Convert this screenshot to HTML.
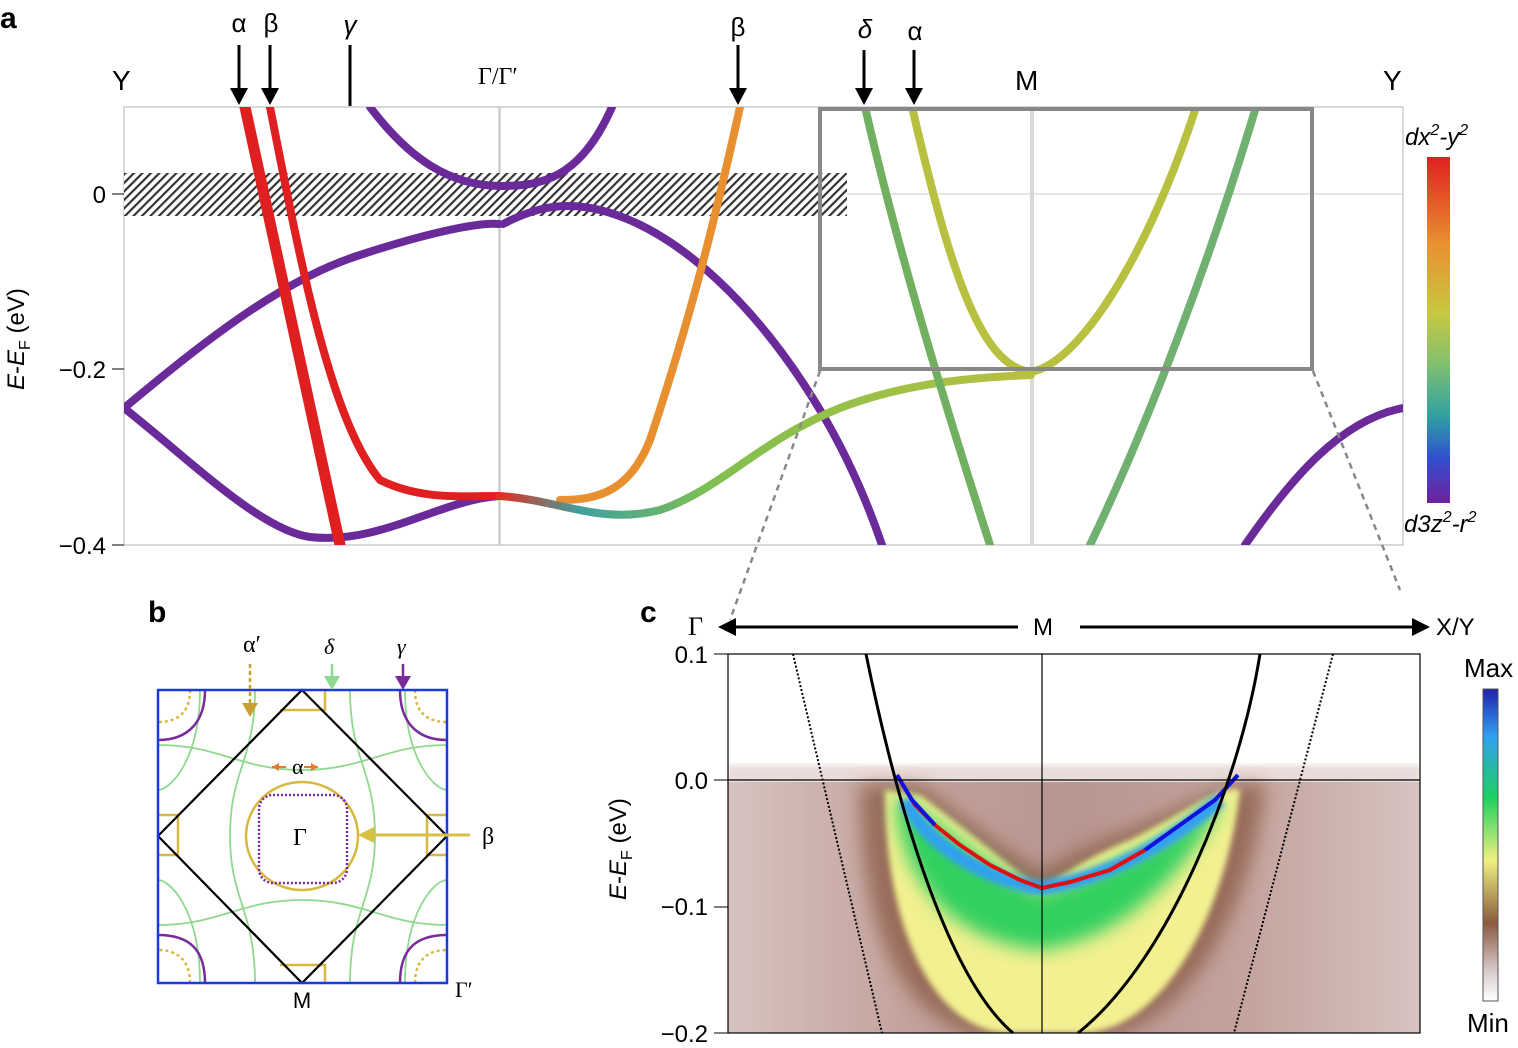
<!DOCTYPE html>
<html><head><meta charset="utf-8"><style>
html,body{margin:0;padding:0;background:#fff}
svg text{font-family:"Liberation Sans",sans-serif}
.s{font-family:"Liberation Serif",serif}
</style></head><body>
<svg width="1518" height="1043" viewBox="0 0 1518 1043" xmlns="http://www.w3.org/2000/svg">
<defs>
<pattern id="h" width="6" height="6" patternUnits="userSpaceOnUse" patternTransform="rotate(45)">
<rect width="6" height="6" fill="#fff"/><rect width="2.2" height="6" fill="#333"/></pattern>
<linearGradient id="cb" x1="0" y1="0" x2="0" y2="1">
<stop offset="0" stop-color="#e02020"/><stop offset="0.25" stop-color="#e89030"/><stop offset="0.45" stop-color="#c8c840"/><stop offset="0.6" stop-color="#80c070"/><stop offset="0.75" stop-color="#30a0a0"/><stop offset="0.87" stop-color="#3050d0"/><stop offset="1" stop-color="#7020a0"/></linearGradient>
<linearGradient id="cb2" x1="0" y1="0" x2="0" y2="1">
<stop offset="0" stop-color="#2020b0"/><stop offset="0.15" stop-color="#30a0f0"/><stop offset="0.35" stop-color="#20d060"/><stop offset="0.55" stop-color="#f0f080"/><stop offset="0.75" stop-color="#8a5a40"/><stop offset="0.9" stop-color="#d8c8c8"/><stop offset="1" stop-color="#ffffff"/></linearGradient>
<linearGradient id="gb" x1="0" y1="0" x2="1" y2="0">
<stop offset="0" stop-color="#e03020"/><stop offset="0.15" stop-color="#40a0a0"/><stop offset="0.4" stop-color="#80c050"/><stop offset="1" stop-color="#b8c040"/></linearGradient>
<linearGradient id="bg" x1="0" y1="0" x2="1" y2="0">
<stop offset="0" stop-color="#d6c3c0"/><stop offset="0.25" stop-color="#c4a39d"/><stop offset="0.5" stop-color="#b89590"/><stop offset="0.75" stop-color="#c4a39d"/><stop offset="1" stop-color="#d6c3c0"/></linearGradient>
<filter id="bl"><feGaussianBlur stdDeviation="9"/></filter>
<filter id="bl2"><feGaussianBlur stdDeviation="3"/></filter>
<clipPath id="ca"><rect x="124" y="107" width="1279" height="438"/></clipPath>
<clipPath id="cc"><rect x="728" y="654" width="692" height="379"/></clipPath>
</defs>

<text x="0" y="28" font-size="30" font-weight="bold">a</text>
<rect x="124" y="107" width="375" height="438" fill="none" stroke="#ccc" stroke-width="1.5"/>
<rect x="500" y="107" width="531" height="438" fill="none" stroke="#ccc" stroke-width="1.5"/>
<rect x="1033" y="107" width="370" height="438" fill="none" stroke="#ccc" stroke-width="1.5"/>
<line x1="124" y1="194" x2="1403" y2="194" stroke="#ccc" stroke-width="1"/>
<rect x="124" y="173" width="723" height="43" fill="url(#h)"/>
<g clip-path="url(#ca)" fill="none" stroke-linecap="round">
<path d="M124 408 C200 345 280 280 360 255 C430 232 480 222 499 224" stroke="#6a2a9a" stroke-width="8"/>
<path d="M124 408 C190 460 260 530 310 537 C380 545 440 500 499 496" stroke="#6a2a9a" stroke-width="8"/>
<path d="M370 107 C410 160 450 185 499 186" stroke="#6a2a9a" stroke-width="8"/>
<path d="M500 186 C540 186 580 180 612 107" stroke="#6a2a9a" stroke-width="8"/>
<path d="M503 224 C530 210 560 200 600 210 C680 230 760 310 820 410 C850 460 870 510 882 545" stroke="#6a2a9a" stroke-width="8"/>
<path d="M245 107 L340 545" stroke="#e02020" stroke-width="11"/>
<path d="M270 107 C300 260 330 420 380 480 C420 500 460 496 499 496" stroke="#e02020" stroke-width="8"/>
<path d="M740 107 C715 220 690 320 650 440 C630 490 600 500 560 500" stroke="#e89030" stroke-width="8"/>
<path d="M500 496 C560 500 600 525 660 510 C720 490 760 440 840 408 C900 385 960 378 1031 375" stroke="url(#gb)" stroke-width="8"/>
<path d="M865 107 C900 260 950 420 990 545" stroke="#70b060" stroke-width="8"/>
<path d="M912 107 C950 270 980 365 1030 372 C1080 365 1150 250 1196 107" stroke="#b8c040" stroke-width="8"/>
<path d="M1256 107 C1210 260 1150 420 1090 545" stroke="#70b070" stroke-width="8"/>
<path d="M1245 545 C1290 480 1340 420 1403 408" stroke="#6a2a9a" stroke-width="8"/>
</g>
<rect x="820" y="109" width="492" height="260" fill="none" stroke="#888" stroke-width="4"/>
<line x1="820" y1="371" x2="730" y2="620" stroke="#888" stroke-width="2.5" stroke-dasharray="6,5"/>
<line x1="1313" y1="371" x2="1400" y2="590" stroke="#888" stroke-width="2.5" stroke-dasharray="6,5"/>
<g font-size="24" text-anchor="end"><text x="106" y="203">0</text><text x="106" y="378">−0.2</text><text x="106" y="554">−0.4</text></g>
<line x1="112" y1="194" x2="124" y2="194" stroke="#000"/><line x1="112" y1="369" x2="124" y2="369" stroke="#000"/><line x1="112" y1="545" x2="124" y2="545" stroke="#000"/>
<text transform="translate(24,390) rotate(-90)" font-size="24"><tspan font-style="italic">E</tspan>-<tspan font-style="italic">E</tspan><tspan font-size="16" dy="6">F</tspan><tspan dy="-6"> (eV)</tspan></text>
<g font-size="28"><text x="112" y="90">Y</text><text x="1015" y="90">M</text><text x="1383" y="90">Y</text></g>
<text x="478" y="84" font-size="24" class="s">Γ/Γ′</text>
<g font-size="26" class="s" text-anchor="middle"><text x="239" y="32">α</text><text x="271" y="32">β</text><text x="350" y="34" font-style="italic">γ</text><text x="738" y="36">β</text><text x="865" y="38" font-style="italic">δ</text><text x="915" y="40">α</text></g>
<g stroke="#000" stroke-width="3"><line x1="239" y1="45" x2="239" y2="90"/><line x1="270" y1="45" x2="270" y2="90"/><line x1="350" y1="45" x2="350" y2="106"/><line x1="738" y1="45" x2="738" y2="90"/><line x1="864" y1="50" x2="864" y2="90"/><line x1="914" y1="50" x2="914" y2="90"/></g>
<g fill="#000"><path d="M230 88h18l-9 17z"/><path d="M261 88h18l-9 17z"/><path d="M729 88h18l-9 17z"/><path d="M855 88h18l-9 17z"/><path d="M905 88h18l-9 17z"/></g>
<rect x="1427" y="157" width="23" height="346" fill="url(#cb)"/>
<text x="1405" y="145" font-size="24" font-style="italic">dx<tspan font-size="16" dy="-10">2</tspan><tspan dy="10">-y</tspan><tspan font-size="16" dy="-10">2</tspan></text>
<text x="1404" y="532" font-size="24" font-style="italic">d3z<tspan font-size="16" dy="-10">2</tspan><tspan dy="10">-r</tspan><tspan font-size="16" dy="-10">2</tspan></text>

<text x="148" y="622" font-size="30" font-weight="bold">b</text>
<g fill="none" stroke-width="1.8">
<path d="M200 690 C200 760 170 790 158 790 M405 690 C405 760 435 790 447 790 M200 983 C200 910 170 880 158 880 M405 983 C405 910 435 880 447 880" stroke="#8fd88f"/>
<path d="M255 690 C255 760 230 770 230 836 C230 900 255 910 255 983 M350 690 C350 760 375 770 375 836 C375 900 350 910 350 983" stroke="#8fd88f"/>
<path d="M158 745 C220 745 240 770 302 770 C365 770 385 745 447 745 M158 925 C220 925 240 900 302 900 C365 900 385 925 447 925" stroke="#8fd88f"/>
<ellipse cx="302" cy="836" rx="56" ry="54" stroke="#d8b840" stroke-width="2.5"/>
<rect x="259" y="795" width="88" height="88" rx="14" stroke="#7a2a9a" stroke-dasharray="2,2" stroke-width="2.5"/>
<path d="M205 690 C205 720 190 740 158 740 M400 690 C400 720 415 740 447 740 M205 983 C205 950 190 935 158 935 M400 983 C400 950 415 935 447 935" stroke="#7a2a9a" stroke-width="2.5"/>
<path d="M190 690 C190 715 175 722 158 722 M415 690 C415 715 430 722 447 722 M190 983 C190 958 175 950 158 950 M415 983 C415 958 430 950 447 950" stroke="#d8b840" stroke-width="2.5" stroke-dasharray="3,3"/>
<path d="M280 710 h45 v-20 M280 965 h45 v18 M158 815 h20 v40 h-20 M447 815 h-20 v40 h20" stroke="#d8b840" stroke-width="2.5"/>
<path d="M302 690 L447 836 L302 983 L158 836 Z" stroke="#000" stroke-width="2.2"/>
</g>
<rect x="158" y="690" width="289" height="293" fill="none" stroke="#1a3ae0" stroke-width="2.5"/>
<text x="293" y="845" font-size="24" class="s">Γ</text>
<text x="302" y="1008" font-size="22" text-anchor="middle">M</text>
<text x="455" y="997" font-size="22" class="s">Γ′</text>
<text x="243" y="652" font-size="24" class="s">α′</text>
<text x="324" y="654" font-size="22" class="s" font-style="italic">δ</text>
<text x="397" y="654" font-size="22" class="s" font-style="italic">γ</text>
<text x="292" y="774" font-size="22" class="s">α</text>
<text x="482" y="844" font-size="24" class="s">β</text>
<line x1="250" y1="664" x2="250" y2="705" stroke="#c8a030" stroke-width="2.5" stroke-dasharray="4,3"/><path d="M242 703h16l-8 14z" fill="#c8a030"/>
<line x1="332" y1="664" x2="332" y2="678" stroke="#8fd88f" stroke-width="2.5"/><path d="M324 676h16l-8 14z" fill="#8fd88f"/>
<line x1="403" y1="664" x2="403" y2="678" stroke="#7a2a9a" stroke-width="2.5"/><path d="M395 676h16l-8 14z" fill="#7a2a9a"/>
<path d="M272 767h14M318 767h-14" stroke="#e87a30" stroke-width="2"/><path d="M272 767l7-4v8zM318 767l-7-4v8z" fill="#e87a30"/>
<line x1="372" y1="835" x2="470" y2="835" stroke="#d8c040" stroke-width="3"/><path d="M358 835l16-8v16z" fill="#d8c040"/>

<text x="640" y="622" font-size="30" font-weight="bold">c</text>
<g clip-path="url(#cc)">
<rect x="728" y="654" width="692" height="379" fill="#fff"/>
<rect x="728" y="765" width="692" height="20" fill="#eadcda" filter="url(#bl2)"/>
<rect x="728" y="782" width="692" height="251" fill="url(#bg)"/>
<path d="M860 785 C860 960 920 1040 1010 1040 L1080 1040 C1180 1040 1250 920 1265 785 C1230 780 1200 800 1130 830 C1070 850 1050 870 1040 870 C1020 860 980 830 920 785 Z" fill="#8a5a45" filter="url(#bl)" opacity="0.75"/>
<path d="M885 790 C885 940 940 1033 1010 1033 L1080 1033 C1160 1033 1225 920 1240 790 C1220 785 1190 810 1130 840 C1080 860 1050 885 1040 890 C1020 875 980 840 920 795 Z" fill="#f2f090" filter="url(#bl2)"/>
<path d="M895 795 C900 880 950 940 1040 950 C1120 940 1180 880 1225 800 C1200 810 1170 840 1120 860 C1080 880 1050 890 1040 892 C1010 880 960 840 920 810 Z" fill="#30d060" filter="url(#bl)"/>
<path d="M905 800 C930 850 990 880 1040 888 C1100 880 1160 850 1220 800" fill="none" stroke="#30a0f0" stroke-width="14" filter="url(#bl2)"/>
</g>
<path d="M897 775 L915 805 L935 825 L960 845 L990 865 L1020 880 L1042 888 L1070 882 L1110 870 L1145 850" fill="none" stroke="#e01010" stroke-width="4"/>
<path d="M897 775 L912 800 L935 825 M1145 850 L1180 825 L1215 800 L1238 775" fill="none" stroke="#1010e0" stroke-width="4"/>
<path d="M866 654 C900 820 950 980 1013 1033 M1260 654 C1240 780 1170 960 1078 1033" fill="none" stroke="#000" stroke-width="3"/>
<path d="M793 654 L882 1033 M1333 654 L1234 1033" fill="none" stroke="#000" stroke-width="2" stroke-dasharray="2,2"/>
<rect x="728" y="654" width="692" height="379" fill="none" stroke="#000" stroke-width="1.2"/>
<line x1="728" y1="780" x2="1420" y2="780" stroke="#000" stroke-width="1.2"/>
<line x1="1042" y1="654" x2="1042" y2="1033" stroke="#000" stroke-width="1.2"/>
<g font-size="24" text-anchor="end"><text x="708" y="663">0.1</text><text x="708" y="789">0.0</text><text x="708" y="915">−0.1</text><text x="708" y="1042">−0.2</text></g>
<g stroke="#000"><line x1="714" y1="654" x2="728" y2="654"/><line x1="714" y1="780" x2="728" y2="780"/><line x1="714" y1="907" x2="728" y2="907"/><line x1="714" y1="1033" x2="728" y2="1033"/></g>
<text transform="translate(626,900) rotate(-90)" font-size="24"><tspan font-style="italic">E</tspan>-<tspan font-style="italic">E</tspan><tspan font-size="16" dy="6">F</tspan><tspan dy="-6"> (eV)</tspan></text>
<text x="688" y="635" font-size="26" class="s">Γ</text>
<text x="1033" y="635" font-size="24">M</text>
<text x="1436" y="635" font-size="24">X/Y</text>
<line x1="730" y1="627" x2="1018" y2="627" stroke="#000" stroke-width="3"/><path d="M718 627l18-9v18z"/>
<line x1="1080" y1="627" x2="1415" y2="627" stroke="#000" stroke-width="3"/><path d="M1430 627l-18-9v18z"/>
<rect x="1483" y="689" width="15" height="312" fill="url(#cb2)" stroke="#555" stroke-width="1"/>
<text x="1464" y="677" font-size="26">Max</text>
<text x="1467" y="1032" font-size="26">Min</text>
</svg>
</body></html>
